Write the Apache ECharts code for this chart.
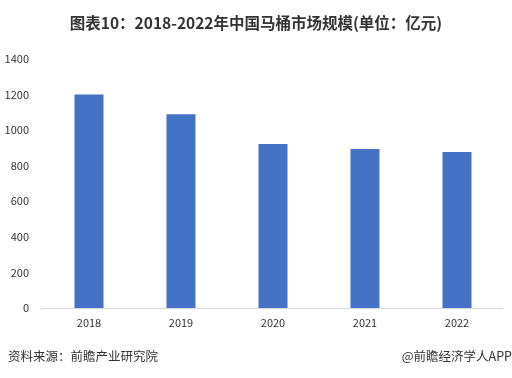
<!DOCTYPE html>
<html>
<head>
<meta charset="utf-8">
<script src="https://cdn.jsdelivr.net/npm/echarts@6/dist/echarts.min.js"></script>
<style>
  html, body { margin: 0; padding: 0; background: #fff; }
  #chartsDom { width: 512px; height: 378px; }
</style>
</head>
<body>
<div id="chartsDom"></div>
<script>
const titleText = "图表10：2018-2022年中国马桶市场规模(单位：亿元)";
const years = ["2018", "2019", "2020", "2021", "2022"];
const marketSize = [1200, 1090, 922, 894, 877];
const sourceText = "资料来源：前瞻产业研究院";
const brandText = "@前瞻经济学人APP";

const myChart = echarts.init(document.getElementById("chartsDom"));
const font = '"Microsoft YaHei", "Noto Sans CJK SC", sans-serif';

let option = {
  animation: false,
  backgroundColor: "#fff",
  title: {
    text: titleText,
    left: "center",
    top: 10,
    textStyle: { fontSize: 15.5, fontWeight: "bold", color: "#333", fontFamily: font }
  },
  graphic: [
    {
      type: "text",
      left: 8,
      top: 350,
      style: { text: sourceText, fontSize: 12.5, fill: "#333", fontFamily: font }
    },
    {
      type: "text",
      right: 0,
      top: 350,
      style: { text: brandText, fontSize: 12.5, fill: "#333", fontFamily: font }
    }
  ],
  grid: { left: 43, right: 9, top: 59, bottom: 70 },
  xAxis: {
    type: "category",
    data: years,
    axisLine: { lineStyle: { color: "#d9d9d9" } },
    axisTick: { show: false },
    axisLabel: { color: "#333", fontSize: 11, margin: 9, fontFamily: font }
  },
  yAxis: {
    type: "value",
    min: 0,
    max: 1400,
    interval: 200,
    splitLine: { show: false },
    axisLine: { show: false },
    axisTick: { show: false },
    axisLabel: {
      color: "#333",
      fontSize: 11,
      margin: 14,
      fontFamily: font,
      formatter: v => String(v)
    }
  },
  series: [
    {
      type: "bar",
      data: marketSize,
      barWidth: 29,
      itemStyle: { color: "#4472C4" }
    }
  ]
};
option && myChart.setOption(option);
</script>
</body>
</html>
